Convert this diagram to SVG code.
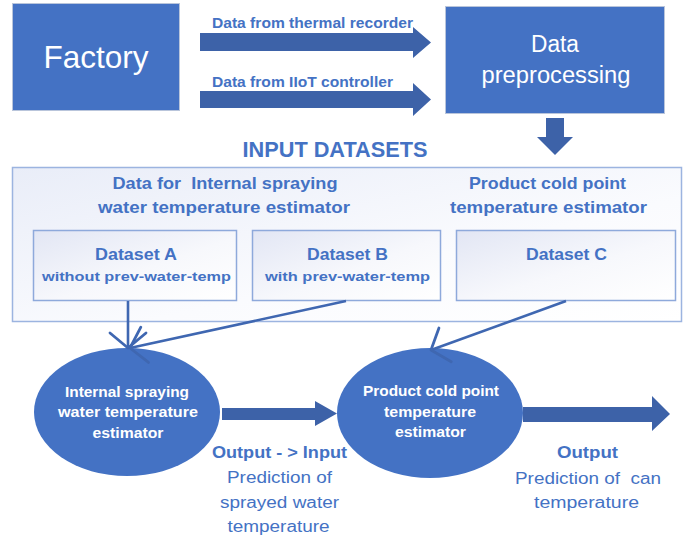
<svg xmlns="http://www.w3.org/2000/svg" width="690" height="540" viewBox="0 0 690 540">
<defs>
<linearGradient id="gOuter" x1="0" y1="0" x2="1" y2="1">
<stop offset="0" stop-color="#E9EDF8"/>
<stop offset="0.6" stop-color="#FAFBFE"/>
<stop offset="1" stop-color="#FFFFFF"/>
</linearGradient>
<linearGradient id="gInner" x1="0" y1="0" x2="1" y2="1">
<stop offset="0" stop-color="#E2E6F4"/>
<stop offset="0.55" stop-color="#F7F8FC"/>
<stop offset="1" stop-color="#FFFFFF"/>
</linearGradient>
<marker id="oa" markerUnits="userSpaceOnUse" markerWidth="50" markerHeight="50" viewBox="-25 -25 50 50" refX="0" refY="0" orient="auto" overflow="visible">
<path d="M-15,-18 L0,0 L-15,18" fill="none" stroke="#3F67B1" stroke-width="2.8" stroke-linecap="round" stroke-linejoin="round"/>
</marker>
</defs>
<style>
text{font-family:"Liberation Sans",Arial,sans-serif;text-anchor:middle}
.box{fill:#4472C4;stroke:#B9C5DB;stroke-width:1}
.w{fill:#FFFFFF}
.b{fill:#4472C4}
.bold{font-weight:bold}
.arr{fill:#3D62A8}
.ds{fill:url(#gInner);stroke:#8EA9DB;stroke-width:1.5}
.outer{fill:url(#gOuter);stroke:#9CB4E0;stroke-width:1.5}
.ell{fill:#4472C4}
.con{fill:none;stroke:#3F67B1;stroke-width:2.6;marker-end:url(#oa)}
</style>

<g id="factory">
<rect class="box" x="12.5" y="3.5" width="167" height="107"/>
<text class="w" x="96" y="68" font-size="32" textLength="105" lengthAdjust="spacingAndGlyphs">Factory</text>
</g>

<g id="preprocessing">
<rect class="box" x="445.5" y="6.5" width="219" height="107"/>
<text class="w" x="555" y="52" font-size="23" textLength="48" lengthAdjust="spacingAndGlyphs">Data</text>
<text class="w" x="556" y="83" font-size="23" textLength="149" lengthAdjust="spacingAndGlyphs">preprocessing</text>
</g>

<g id="arrow-thermal">
<polygon class="arr" points="200,33 413,33 413,27 431,42.5 413,58 413,51 200,51"/>
<text class="b bold" x="312.5" y="28" font-size="15" textLength="201" lengthAdjust="spacingAndGlyphs">Data from thermal recorder</text>
</g>

<g id="arrow-iiot">
<polygon class="arr" points="200,91 413,91 413,83 431,99.5 413,116 413,108 200,108"/>
<text class="b bold" x="302.5" y="87" font-size="15" textLength="181" lengthAdjust="spacingAndGlyphs">Data from IIoT controller</text>
</g>

<g id="arrow-down">
<polygon class="arr" points="546,118 564,118 564,137 573,137 555,155 537,137 546,137"/>
</g>

<g id="input-datasets">
<text class="b bold" x="335" y="157" font-size="22" textLength="185" lengthAdjust="spacingAndGlyphs">INPUT DATASETS</text>
<rect class="outer" x="12.5" y="167.5" width="669" height="154"/>
<text class="b bold" x="225" y="189" font-size="17" textLength="225" lengthAdjust="spacingAndGlyphs" xml:space="preserve">Data for  Internal spraying</text>
<text class="b bold" x="224" y="213" font-size="17" textLength="252" lengthAdjust="spacingAndGlyphs">water temperature estimator</text>
<text class="b bold" x="547.5" y="189" font-size="17" textLength="157" lengthAdjust="spacingAndGlyphs">Product cold point</text>
<text class="b bold" x="548.5" y="213" font-size="17" textLength="197" lengthAdjust="spacingAndGlyphs">temperature estimator</text>
</g>

<g id="dataset-a">
<rect class="ds" x="33.5" y="230.5" width="203" height="70"/>
<text class="b bold" x="136" y="260" font-size="17" textLength="82" lengthAdjust="spacingAndGlyphs">Dataset A</text>
<text class="b bold" x="136.5" y="281" font-size="13.5" textLength="189" lengthAdjust="spacingAndGlyphs">without prev-water-temp</text>
</g>

<g id="dataset-b">
<rect class="ds" x="252.5" y="230.5" width="188" height="70"/>
<text class="b bold" x="347.5" y="260" font-size="17" textLength="81" lengthAdjust="spacingAndGlyphs">Dataset B</text>
<text class="b bold" x="347.5" y="281" font-size="13.5" textLength="165" lengthAdjust="spacingAndGlyphs">with prev-water-temp</text>
</g>

<g id="dataset-c">
<rect class="ds" x="456.5" y="230.5" width="219" height="70"/>
<text class="b bold" x="566.5" y="260" font-size="17" textLength="81" lengthAdjust="spacingAndGlyphs">Dataset C</text>
</g>

<g id="estimator-water">
<ellipse class="ell" cx="127" cy="412" rx="93" ry="64"/>
<text class="w bold" x="127" y="397" font-size="14" textLength="124" lengthAdjust="spacingAndGlyphs">Internal spraying</text>
<text class="w bold" x="128" y="417" font-size="14" textLength="140" lengthAdjust="spacingAndGlyphs">water temperature</text>
<text class="w bold" x="128" y="438" font-size="14" textLength="71" lengthAdjust="spacingAndGlyphs">estimator</text>
</g>

<g id="arrow-mid">
<polygon class="arr" points="222,408 315,408 315,401 337,413.5 315,426 315,420 222,420"/>
<text class="b bold" x="279.5" y="458" font-size="16" textLength="135" lengthAdjust="spacingAndGlyphs">Output - &gt; Input</text>
<text class="b" x="279.5" y="483" font-size="16" textLength="105" lengthAdjust="spacingAndGlyphs">Prediction of</text>
<text class="b" x="279.5" y="508" font-size="16" textLength="119" lengthAdjust="spacingAndGlyphs">sprayed water</text>
<text class="b" x="278.5" y="532" font-size="16" textLength="102" lengthAdjust="spacingAndGlyphs">temperature</text>
</g>

<g id="estimator-cold">
<ellipse class="ell" cx="430" cy="413" rx="93" ry="65"/>
<text class="w bold" x="431" y="396" font-size="14" textLength="136" lengthAdjust="spacingAndGlyphs">Product cold point</text>
<text class="w bold" x="430" y="417" font-size="14" textLength="92" lengthAdjust="spacingAndGlyphs">temperature</text>
<text class="w bold" x="430.5" y="437" font-size="14" textLength="71" lengthAdjust="spacingAndGlyphs">estimator</text>
</g>

<g id="arrow-output">
<polygon class="arr" points="523,407 652,407 652,396 670,414 652,431 652,422 523,422"/>
<text class="b bold" x="587.5" y="458" font-size="16" textLength="61" lengthAdjust="spacingAndGlyphs">Output</text>
<text class="b" x="588" y="484" font-size="16" textLength="146" lengthAdjust="spacingAndGlyphs" xml:space="preserve">Prediction of  can</text>
<text class="b" x="586.5" y="508" font-size="16" textLength="105" lengthAdjust="spacingAndGlyphs">temperature</text>
</g>

<g id="connectors">
<line class="con" x1="128" y1="301" x2="128" y2="348"/>
<line class="con" x1="346" y1="301" x2="130" y2="348"/>
<line class="con" x1="566" y1="301" x2="431" y2="350"/>
</g>
</svg>
